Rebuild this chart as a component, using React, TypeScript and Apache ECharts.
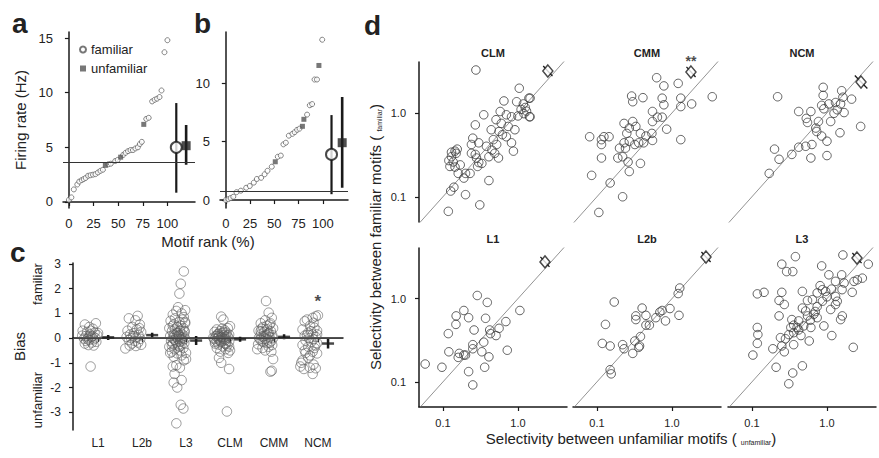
import React, { useEffect, useRef } from "react";
import * as echarts from "echarts";

const FONT = "'Liberation Sans', Arial, Helvetica, sans-serif";

// ---------------- panel a (rank %, firing rate Hz) ----------------
const aFamiliar = [
  [0, 0.2], [2.5, 0.42], [5, 1.15], [8.5, 1.6], [10.5, 1.87], [13, 2.0], [15, 2.1], [17, 2.2],
  [19.5, 2.4], [22, 2.45], [24.5, 2.5], [27, 2.55], [29.5, 2.7], [32, 2.85], [34.5, 2.95],
  [40, 3.45], [42.5, 3.5], [47, 3.75], [49.5, 3.85], [55, 4.3], [57.5, 4.5], [60, 4.65],
  [62.5, 4.75], [65, 4.75], [67.5, 4.9], [70, 5.0], [72, 5.3], [74, 5.5], [78.5, 7.6],
  [81, 7.7], [84.5, 9.2], [87, 9.35], [89.5, 9.45], [92, 9.6], [94, 10.2], [97, 13.7], [100, 14.8],
];
const aUnfamiliar = [[37, 3.35], [52.5, 4.1], [76, 7.1]];
const aMeanFamiliar = [109, 5.0];
const aErrFamiliar = [0.85, 9.05];
const aMeanUnfamiliar = [119, 5.15];
const aErrUnfamiliar = [3.4, 7.05];
const aThreshold = 3.66;

// ---------------- panel b ----------------
const bFamiliar = [
  [0, 0], [2.7, 0.08], [5, 0.17], [7.7, 0.28], [11, 0.67], [15.5, 0.8], [21, 1.05], [24.7, 1.2],
  [28.9, 1.49], [32, 1.8], [36.4, 1.9], [40, 2.2], [43, 2.5], [47.4, 2.85], [53.6, 3.7], [56.7, 3.8],
  [59.4, 4.76], [61.9, 4.9], [65, 5.5], [68.7, 5.66], [71, 5.8], [73.5, 6.0], [76, 6.1], [83.8, 7.3],
  [86.6, 8.1], [89, 8.2], [91.5, 10.3], [94, 10.3], [99.4, 13.7],
];
const bUnfamiliar = [[51, 3.27], [79, 6.3], [80.5, 6.9], [96, 11.5]];
const bMeanFamiliar = [109, 3.9];
const bErrFamiliar = [0.5, 7.26];
const bMeanUnfamiliar = [120, 4.9];
const bErrUnfamiliar = [1.05, 8.8];
const bThreshold = 0.77;

const rankTicks = [0, 25, 50, 75, 100];
const aRateTicks = [0, 5, 10, 15];
const bRateTicks = [0, 5, 10];

// ---------------- panel c (jitter offset, bias) ----------------
const cCategories = ["L1", "L2b", "L3", "CLM", "CMM", "NCM"];
const cL1 = [
  [-0.3, 0.55], [-0.05, 0.6], [-0.2, 0.45], [-0.12, 0.38], [-0.35, 0.3], [-0.25, 0.25], [-0.08, 0.22],
  [-0.18, 0.15], [-0.02, 0.12], [-0.28, 0.08], [-0.15, 0.05], [-0.22, 0.02], [-0.06, 0.0], [-0.32, -0.02],
  [-0.1, -0.05], [-0.2, -0.08], [-0.27, -0.12], [-0.04, -0.15], [-0.14, -0.18], [-0.3, -0.22],
  [-0.22, -0.28], [-0.1, -0.3], [-0.17, 0.3], [-0.24, -0.04], [-0.12, 0.08], [-0.17, -1.15], [0.0, 0.2], [-0.36, 0.1],
];
const cL2b = [
  [-0.1, 0.9], [-0.3, 0.8], [-0.15, 0.72], [-0.05, 0.55], [-0.22, 0.45], [-0.12, 0.35], [-0.33, 0.3],
  [-0.02, 0.25], [-0.18, 0.2], [-0.27, 0.15], [-0.08, 0.12], [-0.2, 0.08], [-0.35, 0.05], [-0.13, 0.02],
  [-0.25, 0.0], [-0.04, -0.03], [-0.3, -0.08], [-0.16, -0.12], [-0.09, -0.18], [-0.23, -0.22],
  [-0.02, -0.27], [-0.14, -0.32], [-0.38, -0.42], [-0.28, -0.3], [-0.06, 0.4],
];
const cL3 = [
  [-0.05, 2.7], [-0.12, 2.2], [-0.15, 1.8], [-0.18, 1.25], [-0.02, 1.13], [-0.22, 1.1], [-0.1, 1.0],
  [-0.3, 0.95], [-0.05, 0.85], [-0.25, 0.8], [-0.08, 0.75], [-0.35, 0.7], [-0.15, 0.65], [-0.02, 0.6],
  [-0.28, 0.55], [-0.12, 0.5], [-0.2, 0.45], [-0.38, 0.4], [-0.06, 0.4], [-0.25, 0.35], [-0.14, 0.3],
  [-0.32, 0.28], [-0.03, 0.25], [-0.2, 0.22], [-0.1, 0.18], [-0.28, 0.15], [-0.16, 0.12], [-0.05, 0.1],
  [-0.36, 0.08], [-0.22, 0.05], [-0.12, 0.03], [-0.3, 0.0], [-0.02, -0.02], [-0.18, -0.04], [-0.26, -0.07],
  [-0.08, -0.1], [-0.34, -0.12], [-0.14, -0.15], [-0.22, -0.18], [-0.04, -0.2], [-0.3, -0.22], [-0.1, -0.25],
  [-0.18, -0.3], [-0.38, -0.35], [-0.06, -0.4], [-0.26, -0.45], [-0.14, -0.5], [-0.32, -0.55], [0.0, -0.6],
  [-0.2, -0.62], [-0.1, -0.7], [-0.28, -0.75], [0.0, -0.85], [-0.05, -0.9], [-0.22, -1.1], [-0.3, -1.15],
  [-0.14, -1.2], [-0.26, -1.45], [-0.1, -1.7], [-0.28, -1.8], [-0.2, -2.0], [-0.12, -2.7], [-0.06, -2.85],
  [-0.22, -3.45], [-0.16, 0.08], [-0.24, -0.12], [-0.08, 0.02], [-0.32, -0.3], [-0.18, 0.2], [-0.12, -0.05],
  [-0.26, 0.1], [-0.04, 0.3], [-0.36, -0.6], [-0.02, 0.65], [-0.15, -0.35], [-0.3, 0.5],
];
const cCLM = [
  [-0.2, 0.87], [-0.15, 0.75], [0.0, 0.48], [-0.05, 0.4], [-0.3, 0.35], [-0.12, 0.32], [-0.22, 0.28],
  [-0.35, 0.25], [-0.08, 0.22], [-0.18, 0.2], [-0.28, 0.16], [-0.02, 0.14], [-0.14, 0.12], [-0.24, 0.1],
  [-0.32, 0.08], [-0.1, 0.06], [-0.2, 0.04], [-0.04, 0.02], [-0.28, 0.0], [-0.16, -0.02], [-0.36, -0.04],
  [-0.08, -0.06], [-0.24, -0.08], [-0.12, -0.1], [-0.3, -0.12], [-0.02, -0.14], [-0.2, -0.16], [-0.1, -0.2],
  [-0.34, -0.22], [-0.26, -0.26], [-0.06, -0.3], [-0.16, -0.34], [-0.3, -0.4], [-0.1, -0.45], [0.0, -0.5],
  [-0.22, -0.55], [-0.04, -0.6], [-0.25, -0.8], [-0.2, -1.0], [-0.02, -1.25], [-0.07, -2.97], [-0.18, 0.05],
  [-0.26, 0.18], [-0.12, -0.03], [-0.3, 0.1], [-0.06, 0.1], [-0.22, -0.12], [-0.14, 0.25], [-0.34, -0.15],
  [-0.02, -0.35], [-0.18, 0.38], [-0.1, -0.24], [-0.26, 0.04], [-0.38, 0.02],
];
const cCMM = [
  [-0.18, 1.5], [-0.12, 1.03], [-0.05, 0.82], [-0.2, 0.72], [-0.3, 0.6], [-0.1, 0.55], [-0.25, 0.45],
  [-0.02, 0.4], [-0.15, 0.35], [-0.35, 0.3], [-0.07, 0.28], [-0.22, 0.25], [-0.12, 0.2], [-0.3, 0.15],
  [-0.04, 0.12], [-0.18, 0.1], [-0.26, 0.06], [-0.1, 0.04], [-0.34, 0.02], [-0.02, 0.0], [-0.2, -0.03],
  [-0.14, -0.06], [-0.28, -0.1], [-0.06, -0.12], [-0.24, -0.16], [-0.16, -0.2], [-0.36, -0.25],
  [-0.04, -0.28], [-0.12, -0.35], [-0.26, -0.4], [-0.38, -0.45], [-0.2, -0.5], [-0.06, -0.55],
  [-0.02, -0.85], [-0.05, -1.32], [-0.08, -1.36], [-0.28, 0.38], [-0.14, 0.18], [-0.08, 0.6],
  [-0.32, -0.05], [-0.22, 0.08], [-0.1, -0.18], [-0.3, 0.28], [-0.16, 0.5],
];
const cNCM = [
  [0.0, 0.92], [-0.05, 0.88], [-0.12, 0.82], [-0.25, 0.75], [-0.3, 0.68], [-0.18, 0.5], [-0.08, 0.42],
  [-0.35, 0.35], [-0.02, 0.3], [-0.22, 0.22], [-0.12, 0.15], [-0.3, 0.1], [-0.05, 0.05], [-0.2, 0.0],
  [-0.1, -0.05], [-0.28, -0.1], [-0.15, -0.15], [-0.02, -0.2], [-0.35, -0.28], [-0.22, -0.35],
  [-0.08, -0.4], [-0.3, -0.5], [-0.12, -0.55], [-0.02, -0.62], [-0.18, -0.7], [-0.35, -0.9],
  [-0.38, -1.0], [-0.1, -1.07], [-0.4, -1.15], [-0.18, -1.2], [-0.05, -1.22], [-0.32, -1.25],
  [-0.12, -1.45], [-0.25, 0.12], [-0.06, -0.3], [-0.16, 0.28], [-0.28, -0.6], [-0.02, 0.15],
  [-0.22, -0.8], [-0.1, 0.62],
];
const cMeans = [0.03, 0.12, -0.1, -0.05, 0.05, -0.22];
const cErrLow = [-0.08, 0.03, -0.28, -0.15, -0.05, -0.42];
const cErrHigh = [0.13, 0.22, 0.08, 0.05, 0.16, -0.01];
const cMeanOffset = 0.23;
const cBiasTicks = [-3, -2, -1, 0, 1, 2, 3];
const cStar = [6, 1.5];

// ---------------- panel d (selectivity unfamiliar, selectivity familiar) ----------------
const dTitles = ["CLM", "CMM", "NCM", "L1", "L2b", "L3"];
const dCLM = [
  [0.275, 3.25], [1.04, 1.97], [0.65, 1.39], [0.96, 1.36], [1.18, 1.28], [1.4, 1.5], [1.25, 1.16],
  [0.35, 0.95], [0.58, 1.04], [0.7, 0.95], [0.82, 0.9], [1.0, 0.92], [1.42, 0.9], [0.27, 0.72],
  [0.51, 0.83], [0.44, 0.63], [0.56, 0.6], [0.74, 0.69], [0.7, 0.52], [0.91, 0.63], [0.82, 0.44],
  [0.87, 0.35], [0.25, 0.5], [0.24, 0.42], [0.3, 0.44], [0.47, 0.48], [0.52, 0.42], [0.45, 0.36],
  [0.49, 0.33], [0.41, 0.3], [0.55, 0.29], [0.24, 0.33], [0.27, 0.32], [0.28, 0.29], [0.145, 0.35],
  [0.155, 0.37], [0.13, 0.3], [0.12, 0.27], [0.137, 0.26], [0.124, 0.23], [0.17, 0.24], [0.145, 0.226],
  [0.16, 0.19], [0.2, 0.19], [0.23, 0.19], [0.19, 0.167], [0.3, 0.256], [0.29, 0.23], [0.41, 0.156],
  [0.14, 0.13], [0.127, 0.117], [0.2, 0.106], [0.31, 0.08], [0.118, 0.067], [1.45, 1.5], [1.45, 0.9],
  [1.1, 1.1], [0.62, 0.55], [0.38, 0.4], [0.33, 0.25], [0.6, 0.75], [0.15, 0.33], [0.13, 0.34],
  [1.3, 1.05], [1.2, 0.98],
];
const dCMM = [
  [0.625, 2.63], [0.78, 2.1], [1.21, 2.25], [0.29, 1.59], [0.3, 1.36], [0.41, 1.52], [0.74, 1.5],
  [0.78, 1.25], [1.31, 1.5], [1.31, 1.19], [1.83, 1.28], [0.55, 1.04], [0.64, 0.89], [0.74, 0.89],
  [0.55, 0.79], [0.85, 0.64], [0.23, 0.75], [0.3, 0.79], [0.27, 0.66], [0.25, 0.57], [0.33, 0.69],
  [0.38, 0.57], [0.45, 0.53], [0.54, 0.57], [0.55, 0.47], [0.42, 0.44], [0.36, 0.44], [0.32, 0.42],
  [0.27, 0.46], [0.23, 0.44], [0.2, 0.38], [0.24, 0.38], [0.22, 0.3], [0.19, 0.29], [0.26, 0.26],
  [0.38, 0.25], [0.27, 0.2], [0.115, 0.48], [0.124, 0.52], [0.145, 0.52], [0.115, 0.42], [0.115, 0.29],
  [0.08, 0.52], [0.085, 0.18], [0.15, 0.146], [0.22, 0.1], [0.106, 0.065], [1.31, 0.48], [3.44, 1.56],
];
const dNCM = [
  [0.22, 1.56], [0.89, 2.02], [0.89, 1.62], [1.57, 1.84], [1.63, 1.54], [2.13, 1.46], [0.85, 1.23],
  [0.91, 1.12], [1.06, 1.28], [1.3, 1.33], [1.52, 1.28], [1.37, 1.09], [1.69, 1.01], [1.24, 0.99],
  [0.42, 1.04], [0.61, 1.04], [0.53, 0.86], [0.55, 0.77], [0.77, 0.79], [1.12, 0.79], [0.71, 0.66],
  [0.73, 0.6], [2.81, 0.69], [1.49, 0.58], [0.85, 0.53], [1.0, 0.46], [0.63, 0.42], [0.52, 0.4],
  [0.42, 0.39], [0.34, 0.32], [0.2, 0.37], [0.23, 0.28], [0.61, 0.29], [1.0, 0.31], [0.17, 0.19],
];
const dL1 = [
  [0.287, 1.09], [0.39, 0.9], [1.06, 0.72], [0.19, 0.72], [0.15, 0.62], [0.22, 0.59], [0.37, 0.58],
  [0.149, 0.49], [0.69, 0.53], [0.118, 0.38], [0.26, 0.42], [0.42, 0.42], [0.56, 0.44], [0.43, 0.38],
  [0.51, 0.36], [0.35, 0.3], [0.25, 0.28], [0.25, 0.25], [0.33, 0.23], [0.41, 0.2], [0.72, 0.24],
  [0.12, 0.23], [0.165, 0.22], [0.16, 0.197], [0.2, 0.21], [0.19, 0.21], [0.058, 0.164], [0.097, 0.15],
  [0.36, 0.15], [0.22, 0.133], [0.25, 0.092],
];
const dL2b = [
  [0.17, 0.91], [1.27, 1.34], [1.21, 1.15], [0.4, 0.77], [0.94, 0.76], [0.74, 0.72], [0.69, 0.69],
  [1.24, 0.63], [0.33, 0.62], [0.45, 0.63], [0.33, 0.56], [0.61, 0.59], [0.82, 0.54], [0.45, 0.48],
  [0.5, 0.48], [0.13, 0.49], [0.38, 0.35], [0.32, 0.31], [0.36, 0.26], [0.37, 0.27], [0.118, 0.29],
  [0.15, 0.27], [0.22, 0.28], [0.23, 0.25], [0.3, 0.22], [0.15, 0.14], [0.155, 0.125],
];
const dL3 = [
  [0.38, 3.19], [1.63, 3.34], [3.55, 2.59], [0.25, 2.59], [0.29, 2.11], [0.35, 2.11], [0.85, 2.47],
  [1.06, 1.93], [1.57, 1.93], [1.3, 1.61], [2.96, 1.76], [2.54, 1.68], [2.29, 1.61], [1.69, 1.54],
  [0.81, 1.43], [0.87, 1.28], [1.59, 1.28], [2.17, 1.19], [0.118, 1.14], [0.145, 1.19], [0.25, 1.19],
  [0.47, 1.22], [0.74, 1.17], [1.3, 1.06], [0.23, 0.95], [0.27, 0.85], [0.55, 0.95], [0.64, 0.97],
  [0.87, 0.93], [1.37, 0.93], [1.12, 0.74], [0.74, 0.8], [0.47, 0.77], [0.52, 0.71], [0.55, 0.62],
  [0.67, 0.65], [0.74, 0.59], [0.23, 0.62], [0.34, 0.56], [0.42, 0.54], [0.36, 0.48], [0.4, 0.45],
  [0.49, 0.47], [0.61, 0.45], [1.6, 0.62], [1.52, 0.56], [0.91, 0.47], [2.24, 0.26], [1.16, 0.36],
  [0.58, 0.31], [0.45, 0.36], [0.36, 0.39], [0.31, 0.37], [0.28, 0.33], [0.24, 0.34], [0.25, 0.27],
  [0.27, 0.23], [0.36, 0.28], [0.19, 0.25], [0.118, 0.45], [0.12, 0.37], [0.118, 0.29], [0.103, 0.21],
  [0.21, 0.15], [0.47, 0.156], [0.35, 0.128], [0.31, 0.095], [0.96, 1.22], [1.3, 0.85], [1.0, 1.05],
  [0.6, 0.55], [0.42, 0.42], [0.33, 0.45], [0.7, 0.7], [1.15, 1.3],
];
const dMeans = [[2.5, 3.16], [1.79, 3.08], [2.84, 2.34], [2.29, 2.76], [2.84, 3.16], [2.51, 3.07]];
const dWhiskers = [
  [[2.17, 3.63], [2.88, 2.75]],
  [[1.56, 3.54], [2.06, 2.68]],
  [[2.35, 2.8], [3.45, 1.96]],
  [[1.99, 3.17], [2.63, 2.4]],
  [[2.47, 3.63], [3.27, 2.75]],
  [[2.18, 3.53], [2.89, 2.67]],
];
const dStars = [1.79, 4.2];
const dSelTicks = [0.1, 1];

const INK = "#1a1a1a";

function baseAxis(extra: any) {
  return {
    axisLine: { show: true, lineStyle: { color: INK, width: 1.5 } },
    axisTick: { show: true, length: 4, lineStyle: { color: INK, width: 1.2 } },
    splitLine: { show: false },
    ...extra,
  };
}

function buildOption() {
  const grids: any[] = [
    { left: 63, top: 32, width: 132, height: 176 },
    { left: 220, top: 32, width: 128, height: 176 },
    { left: 73, top: 263, width: 270, height: 167 },
    { left: 419, top: 62, width: 148, height: 160 },
    { left: 573, top: 62, width: 148, height: 160 },
    { left: 728, top: 62, width: 148, height: 160 },
    { left: 419, top: 248, width: 148, height: 159 },
    { left: 573, top: 248, width: 148, height: 159 },
    { left: 728, top: 248, width: 148, height: 159 },
  ].map((g) => ({ ...g, containLabel: false, outerBoundsMode: "none" }));

  const tickLabel = (size: number, margin: number, values: number[], formatter?: any) => ({
    customValues: values,
    fontSize: size,
    fontFamily: FONT,
    color: "#222",
    margin,
    ...(formatter ? { formatter } : {}),
  });

  const xAxes: any[] = [];
  const yAxes: any[] = [];

  // panel a
  xAxes.push(baseAxis({ gridIndex: 0, type: "value", min: -6, max: 128,
    axisTick: { show: true, length: 4, customValues: rankTicks, lineStyle: { color: INK, width: 1.2 } },
    axisLabel: tickLabel(13, 9, rankTicks) }));
  yAxes.push(baseAxis({ gridIndex: 0, type: "value", min: -0.55, max: 15.55,
    axisTick: { show: true, length: 4, customValues: aRateTicks, lineStyle: { color: INK, width: 1.2 } },
    axisLabel: tickLabel(13, 10, aRateTicks),
    name: "Firing rate (Hz)", nameLocation: "middle", nameGap: 35,
    nameTextStyle: { fontSize: 15, fontFamily: FONT, color: "#222" } }));
  // panel b
  xAxes.push(baseAxis({ gridIndex: 1, type: "value", min: -6, max: 126,
    axisTick: { show: true, length: 4, customValues: rankTicks, lineStyle: { color: INK, width: 1.2 } },
    axisLabel: tickLabel(13, 9, rankTicks) }));
  yAxes.push(baseAxis({ gridIndex: 1, type: "value", min: -0.68, max: 14.36,
    axisTick: { show: true, length: 4, customValues: bRateTicks, lineStyle: { color: INK, width: 1.2 } },
    axisLabel: tickLabel(13, 10, bRateTicks) }));
  // panel c
  const catPos = cCategories.map((_, i) => i + 1);
  xAxes.push(baseAxis({ gridIndex: 2, type: "value", min: 0.43, max: 6.57,
    axisTick: { show: true, length: 4, customValues: catPos, lineStyle: { color: INK, width: 1.2 } },
    axisLabel: tickLabel(12, 7, catPos, (v: number) => cCategories[Math.round(v) - 1] || "") }));
  yAxes.push(baseAxis({ gridIndex: 2, type: "value", min: -3.72, max: 3.04,
    axisTick: { show: true, length: 4, customValues: cBiasTicks, lineStyle: { color: INK, width: 1.2 } },
    axisLabel: tickLabel(12, 12, cBiasTicks),
    name: "Bias", nameLocation: "middle", nameGap: 46,
    nameTextStyle: { fontSize: 15, fontFamily: FONT, color: "#222" } }));
  // panel d
  const selFmt = (v: number) => v.toFixed(1);
  for (let i = 0; i < 6; i++) {
    const bottom = i >= 3;
    const firstCol = i % 3 === 0;
    xAxes.push(baseAxis({ gridIndex: 3 + i, type: "log", logBase: 10, min: 0.048, max: 4.5, show: bottom,
      axisTick: { show: true, length: 4, customValues: dSelTicks, lineStyle: { color: INK, width: 1.2 } },
      axisLabel: tickLabel(11, 10, dSelTicks, selFmt) }));
    yAxes.push(baseAxis({ gridIndex: 3 + i, type: "log", logBase: 10, min: 0.05, max: 4.05, show: firstCol,
      axisTick: { show: true, length: 4, customValues: dSelTicks, lineStyle: { color: INK, width: 1.2 } },
      axisLabel: tickLabel(11, 13, dSelTicks, selFmt) }));
  }

  const series: any[] = [];
  const errLine = (ai: number, pts: number[][], width: number) => ({
    type: "line", xAxisIndex: ai, yAxisIndex: ai, data: pts, symbol: "none", silent: true,
    lineStyle: { color: INK, width }, z: 3, animation: false,
  });

  // panels a and b
  const ab = [
    { ai: 0, fam: aFamiliar, unf: aUnfamiliar, mf: aMeanFamiliar, ef: aErrFamiliar, mu: aMeanUnfamiliar, eu: aErrUnfamiliar, th: aThreshold },
    { ai: 1, fam: bFamiliar, unf: bUnfamiliar, mf: bMeanFamiliar, ef: bErrFamiliar, mu: bMeanUnfamiliar, eu: bErrUnfamiliar, th: bThreshold },
  ];
  ab.forEach((p) => {
    series.push({
      type: "scatter", name: "familiar", xAxisIndex: p.ai, yAxisIndex: p.ai, data: p.fam, symbol: "circle",
      symbolSize: 5, silent: true, itemStyle: { color: "#fff", borderColor: "#555", borderWidth: 0.9 }, z: 4,
      markLine: { silent: true, symbol: ["none", "none"], label: { show: false },
        lineStyle: { color: "#333", width: 1, type: "solid" }, data: [{ yAxis: p.th }] },
    });
    series.push({
      type: "scatter", name: "unfamiliar", xAxisIndex: p.ai, yAxisIndex: p.ai, data: p.unf, symbol: "rect",
      symbolSize: 5, silent: true, itemStyle: { color: "#555" }, z: 4,
    });
    series.push(errLine(p.ai, [[p.mf[0], p.ef[0]], [p.mf[0], p.ef[1]]], 2.2));
    series.push(errLine(p.ai, [[p.mu[0], p.eu[0]], [p.mu[0], p.eu[1]]], 2.6));
    series.push({ type: "scatter", xAxisIndex: p.ai, yAxisIndex: p.ai, data: [p.mf], symbol: "circle", symbolSize: 11,
      silent: true, itemStyle: { color: "#fff", borderColor: INK, borderWidth: 2 }, z: 6 });
    series.push({ type: "scatter", xAxisIndex: p.ai, yAxisIndex: p.ai, data: [p.mu], symbol: "rect", symbolSize: 9,
      silent: true, itemStyle: { color: "#222" }, z: 6 });
  });

  // panel c
  const cGroups = [cL1, cL2b, cL3, cCLM, cCMM, cNCM];
  cGroups.forEach((g, i) => {
    series.push({
      type: "scatter", xAxisIndex: 2, yAxisIndex: 2, silent: true, symbol: "circle", symbolSize: 9.5,
      data: g.map(([j, v]) => [i + 1 + j, v]),
      itemStyle: { color: "transparent", borderColor: "rgba(90,90,90,0.75)", borderWidth: 1 }, z: 2,
      ...(i === 0 ? { markLine: { silent: true, symbol: ["none", "none"], label: { show: false },
        lineStyle: { color: "#444", width: 1, type: "solid" }, data: [{ yAxis: 0 }] } } : {}),
    });
    const mx = i + 1 + cMeanOffset;
    series.push(errLine(2, [[mx, cErrLow[i]], [mx, cErrHigh[i]]], 2.5));
    series.push({ type: "scatter", xAxisIndex: 2, yAxisIndex: 2, silent: true, symbol: "rect",
      symbolSize: [12, 2.5], data: [[mx, cMeans[i]]], itemStyle: { color: INK }, z: 5 });
  });
  series.push({ type: "scatter", xAxisIndex: 2, yAxisIndex: 2, silent: true, symbolSize: 0, data: [cStar],
    label: { show: true, position: "inside", formatter: "*", fontSize: 17, fontWeight: "bold", color: INK, fontFamily: FONT } });

  // panel d
  const dGroups = [dCLM, dCMM, dNCM, dL1, dL2b, dL3];
  dGroups.forEach((g, i) => {
    const ai = 3 + i;
    series.push({ type: "line", xAxisIndex: ai, yAxisIndex: ai, data: [[0.03, 0.03], [6, 6]], symbol: "none",
      silent: true, lineStyle: { color: "#777", width: 0.8 }, z: 1 });
    series.push({ type: "scatter", xAxisIndex: ai, yAxisIndex: ai, data: g, symbol: "circle", symbolSize: 8.5,
      silent: true, itemStyle: { color: "transparent", borderColor: "#3a3a3a", borderWidth: 1 }, z: 2 });
    series.push({ type: "line", xAxisIndex: ai, yAxisIndex: ai, data: dWhiskers[i], symbol: "none", silent: true,
      lineStyle: { color: INK, width: 1.3 }, z: 4, clip: false });
    series.push({ type: "scatter", xAxisIndex: ai, yAxisIndex: ai, data: [dMeans[i]], symbol: "diamond",
      symbolSize: [10, 12], silent: true, itemStyle: { color: "#fff", borderColor: INK, borderWidth: 1.5 }, z: 5, clip: false });
  });
  series.push({ type: "scatter", xAxisIndex: 4, yAxisIndex: 4, silent: true, symbolSize: 0, data: [dStars], clip: false,
    label: { show: true, position: "inside", formatter: "**", fontSize: 14, fontWeight: "bold", color: INK, fontFamily: FONT } });

  const letter = (t: string, left: number, top: number) => ({
    text: t, left, top, padding: 0,
    textStyle: { fontSize: 28, fontWeight: "bold", color: "#222", fontFamily: FONT },
  });
  const subTitle = (t: string, left: number, top: number) => ({
    text: t, left, top, padding: 0, textAlign: "center",
    textStyle: { fontSize: 11, fontWeight: "bold", color: "#222", fontFamily: FONT },
  });
  const gridCenters = [493, 647, 802];
  const titles: any[] = [
    letter("a", 12, 9), letter("b", 194, 9), letter("c", 10, 238), letter("d", 364, 11),
    { text: "Motif rank (%)", left: 208, top: 234, padding: 0, textAlign: "center",
      textStyle: { fontSize: 15, fontWeight: "normal", color: "#222", fontFamily: FONT } },
  ];
  dTitles.forEach((t, i) => titles.push(subTitle(t, gridCenters[i % 3], i < 3 ? 47 : 233)));

  const graphic: any[] = [
    { type: "text", x: 37, y: 284, rotation: Math.PI / 2, silent: true,
      style: { text: "familiar", fontSize: 13, fontFamily: FONT, fill: "#222", align: "center", verticalAlign: "middle" } },
    { type: "text", x: 37, y: 400, rotation: Math.PI / 2, silent: true,
      style: { text: "unfamiliar", fontSize: 13, fontFamily: FONT, fill: "#222", align: "center", verticalAlign: "middle" } },
    { type: "text", x: 375, y: 237, rotation: Math.PI / 2, silent: true,
      style: { text: "Selectivity between familiar motifs ( {s|familiar})", fontSize: 15, fontFamily: FONT, fill: "#222",
        align: "center", verticalAlign: "middle",
        rich: { s: { fontSize: 7, fontFamily: FONT, fill: "#222", verticalAlign: "bottom", lineHeight: 16 } } } },
    { type: "text", x: 631, y: 438, silent: true,
      style: { text: "Selectivity between unfamiliar motifs ( {s|unfamiliar})", fontSize: 15, fontFamily: FONT, fill: "#222",
        align: "center", verticalAlign: "middle",
        rich: { s: { fontSize: 7, fontFamily: FONT, fill: "#222", verticalAlign: "bottom", lineHeight: 16 } } } },
  ];

  return {
    animation: false,
    backgroundColor: "#fff",
    textStyle: { fontFamily: FONT },
    title: titles,
    legend: {
      left: 79, top: 43, orient: "vertical", itemWidth: 6, itemHeight: 6, itemGap: 6, selectedMode: false,
      padding: 0, textStyle: { fontSize: 13, fontFamily: FONT, color: "#222" },
      data: [{ name: "familiar", icon: "circle" }, { name: "unfamiliar", icon: "rect" }],
    },
    grid: grids,
    xAxis: xAxes,
    yAxis: yAxes,
    series,
    graphic,
  };
}

export default function App() {
  const ref = useRef<HTMLDivElement>(null);
  useEffect(() => {
    if (!ref.current) return;
    const chart = echarts.init(ref.current, undefined, { renderer: "svg" });
    chart.setOption(buildOption() as any);
    return () => chart.dispose();
  }, []);
  return (
    <div
      ref={ref}
      style={{ position: "fixed", left: 0, top: 0, width: 879, height: 458, background: "#fff" }}
    />
  );
}
